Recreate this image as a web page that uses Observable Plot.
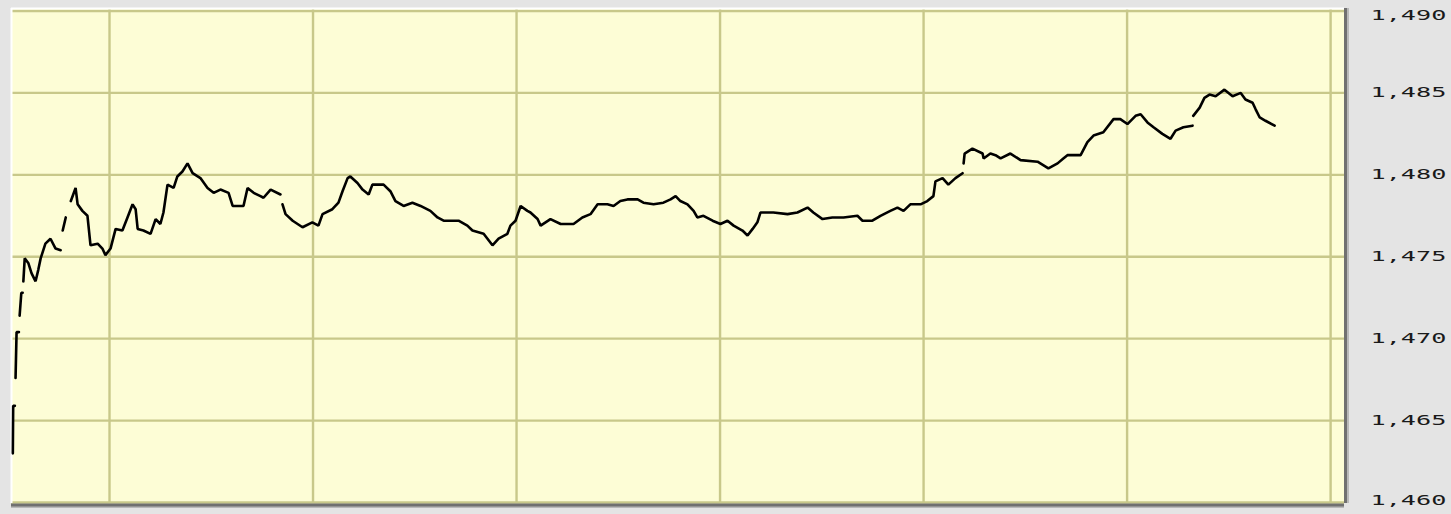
<!DOCTYPE html>
<html><head><meta charset="utf-8">
<script src="https://cdn.jsdelivr.net/npm/d3@7"></script>
<script src="https://cdn.jsdelivr.net/npm/@observablehq/plot@0.6"></script>
<style>body{margin:0;background:#e4e4e4;overflow:hidden}</style>
</head><body><div id="chart"></div>
<script>
// minutes after 9:30 open; null = gap in the feed
const minutes = [
1.5,1.6,2.1,2.2,
2.3,2.6,3.3,3.4,
3.5,4.0,4.4,4.5,
4.6,5.0,6.1,7.0,8.2,9.0,9.7,11.1,12.6,14.1,15.6,15.9,
16.2,17.1,17.8,
18.6,20.0,20.6,22.0,23.5,24.4,26.5,27.9,28.8,30.3,31.8,33.8,35.3,36.8,37.7,38.3,40.0,42.1,43.6,45.0,45.9,47.1,48.9,50.0,51.5,53.0,54.5,56.8,58.9,60.7,62.7,65.1,66.3,69.5,70.7,72.5,74.5,75.4,77.5,80.4,80.7,
81.0,81.9,84.0,86.9,89.8,91.6,92.8,95.7,97.5,98.7,100.2,101.0,103.1,104.6,106.4,107.5,110.8,112.8,114.3,116.7,119.3,121.7,124.6,126.7,128.5,132.9,135.5,137.0,140.3,142.9,144.7,147.3,148.2,149.7,151.2,153.2,154.1,156.2,157.1,160.0,163.0,166.8,169.4,171.8,173.9,176.8,178.6,180.6,182.7,185.7,187.4,190.4,193.3,195.4,196.9,198.3,200.4,202.2,203.3,205.1,207.8,210.1,212.2,214.0,216.6,218.1,219.6,221.0,221.9,225.7,229.9,232.8,235.8,237.5,240.2,243.1,246.4,250.5,252.0,254.9,257.3,260.2,262.3,264.1,266.1,269.1,271.1,272.9,273.5,275.6,277.3,279.4,281.5,281.6,
281.8,282.1,284.4,287.4,287.7,289.7,291.2,292.7,295.6,298.6,303.6,306.8,309.5,311.2,312.4,316.3,318.3,320.1,323.0,326.0,328.0,330.1,332.5,334.0,336.0,337.8,340.4,342.8,344.3,346.6,349.3,349.4,
349.5,351.4,352.8,354.3,356.1,358.7,361.1,363.5,364.9,367.0,367.9,369.1,370.8,373.5
];
const prices = [
1463.0,1465.9,1465.9,null,
1467.6,1470.4,1470.4,null,
1471.4,1472.8,1472.8,null,
1473.5,1474.9,1474.6,1474.0,1473.5,1474.2,1474.9,1475.8,1476.1,1475.5,1475.4,null,
1476.6,1477.4,null,
1478.4,1479.2,1478.2,1477.8,1477.5,1475.7,1475.8,1475.5,1475.1,1475.5,1476.7,1476.6,1477.4,1478.2,1477.9,1476.7,1476.6,1476.4,1477.3,1477.0,1477.7,1479.4,1479.2,1479.9,1480.2,1480.7,1480.1,1479.8,1479.2,1478.9,1479.1,1478.9,1478.1,1478.1,1479.2,1478.9,1478.7,1478.6,1479.1,1478.8,null,
1478.2,1477.6,1477.2,1476.8,1477.1,1476.9,1477.6,1477.9,1478.3,1479.0,1479.8,1479.9,1479.5,1479.1,1478.8,1479.4,1479.4,1479.0,1478.4,1478.1,1478.3,1478.1,1477.8,1477.4,1477.2,1477.2,1476.9,1476.6,1476.4,1475.7,1476.1,1476.4,1476.9,1477.2,1478.1,1477.8,1477.7,1477.3,1476.9,1477.3,1477.0,1477.0,1477.4,1477.6,1478.2,1478.2,1478.1,1478.4,1478.5,1478.5,1478.3,1478.2,1478.3,1478.5,1478.7,1478.4,1478.2,1477.8,1477.4,1477.5,1477.2,1477.0,1477.2,1476.9,1476.6,1476.3,1476.7,1477.1,1477.7,1477.7,1477.6,1477.7,1478.0,1477.7,1477.3,1477.4,1477.4,1477.5,1477.2,1477.2,1477.5,1477.8,1478.0,1477.8,1478.2,1478.2,1478.4,1478.7,1479.6,1479.8,1479.4,1479.8,1480.1,null,
1480.7,1481.3,1481.6,1481.3,1481.0,1481.3,1481.2,1481.0,1481.3,1480.9,1480.8,1480.4,1480.7,1481.0,1481.2,1481.2,1482.0,1482.4,1482.6,1483.4,1483.4,1483.1,1483.6,1483.7,1483.2,1482.9,1482.5,1482.2,1482.7,1482.9,1483.0,null,
1483.6,1484.1,1484.7,1484.9,1484.8,1485.2,1484.8,1485.0,1484.6,1484.4,1484.0,1483.5,1483.3,1483.0
];
const hourTicks = [30, 90, 150, 210, 270, 330, 390];
const priceTicks = [1460, 1465, 1470, 1475, 1480, 1485, 1490];
const xDomain = [1.4, 393.8];
const yDomain = [1460, 1490];

const rows = minutes.map((m, i) => ({m, p: prices[i]}));

const grid = "#c8c88a";
const chart = Plot.plot({
  width: 1451, height: 514,
  marginLeft: 11, marginRight: 107, marginTop: 8, marginBottom: 11,
  style: {background: "#e4e4e4", fontFamily: "DejaVu Sans Mono", fontSize: "14px"},
  x: {domain: xDomain, range: [12, 1343], axis: null},
  y: {domain: yDomain, range: [502, 10.5], label: null},
  marks: [
    Plot.frame({fill: "#fdfdd6", stroke: null}),
    Plot.ruleX(hourTicks, {stroke: grid, strokeWidth: 2.4}),
    Plot.ruleY(priceTicks, {stroke: grid, strokeWidth: 2.4}),
    Plot.ruleX([xDomain[0]], {stroke: "#ffffff", strokeWidth: 2, dx: -1}),
    Plot.ruleY([yDomain[1]], {stroke: "#ffffff", strokeWidth: 2, dy: -2.5}),
    Plot.ruleX([xDomain[1]], {stroke: "#b9b9b9", strokeWidth: 2, dx: 4.5}),
    Plot.ruleY([yDomain[0]], {stroke: "#b9b9b9", strokeWidth: 2, dy: 4.5}),
    Plot.ruleX([xDomain[1]], {stroke: "#707070", strokeWidth: 3, dx: 2}),
    Plot.ruleY([yDomain[0]], {stroke: "#707070", strokeWidth: 3, dy: 2.5}),
    Plot.line(rows, {x: "m", y: "p", curve: "linear", stroke: "#000", strokeWidth: 2.6, strokeLinejoin: "miter"}),
    Plot.axisY(priceTicks, {anchor: "right", label: null, tickSize: 0, tickPadding: 26,
      tickFormat: d3.format(","), fontSize: 14, fontFamily: "DejaVu Sans Mono", fill: "#1a1a1a"})
  ]
});
document.getElementById("chart").appendChild(chart);
chart.querySelectorAll('[aria-label="y-axis tick label"] text').forEach(t => {
  const tr = t.getAttribute("transform") || "";
  const label = t.textContent;
  const shift = label === "1,490" ? " translate(0,4.5)" : label === "1,460" ? " translate(0,-1.5)" : "";
  t.setAttribute("transform", tr + shift + " scale(1.8,1)");
});
</script>
</body></html>
